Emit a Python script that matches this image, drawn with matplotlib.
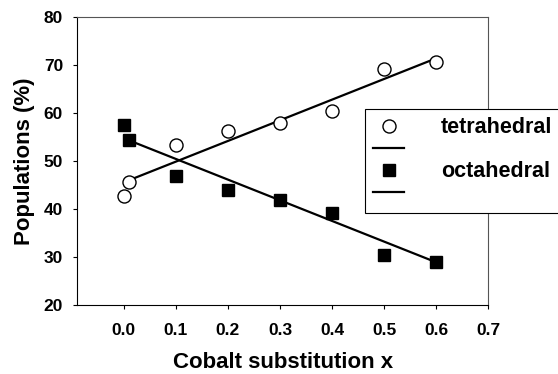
import numpy as np
import matplotlib
matplotlib.use('Agg')
import matplotlib.pyplot as plt
from matplotlib.lines import Line2D
from matplotlib.legend_handler import HandlerLine2D

# data
x = [0.0, 0.01, 0.1, 0.2, 0.3, 0.4, 0.5, 0.6]
tetrahedral = [42.7, 45.7, 53.3, 56.2, 58.0, 60.5, 69.2, 70.6]
octahedral = [57.4, 54.4, 46.8, 43.9, 41.9, 39.1, 30.4, 29.0]

# straight fit lines (end points)
fit_x = [0.01, 0.6]
tetra_fit = [46.0, 71.4]
octa_fit = [54.3, 28.9]

xticks = [0.0, 0.1, 0.2, 0.3, 0.4, 0.5, 0.6, 0.7]
yticks = [20, 30, 40, 50, 60, 70, 80]

plt.rcParams['font.family'] = 'Liberation Sans'
plt.rcParams['font.weight'] = 'bold'


class RightMarker(HandlerLine2D):
    # put the legend marker near the right end of the handle box
    def get_xdata(self, legend, xdescent, ydescent, width, height, fontsize):
        xdata, xm = super().get_xdata(legend, xdescent, ydescent, width, height, fontsize)
        return xdata, [0.9 * width - xdescent]


fig = plt.figure(figsize=(5.58, 3.74), dpi=100)
ax = fig.add_axes([0.138, 0.1845, 0.737, 0.77])

ax.plot(x, tetrahedral, 'o', mfc='white', mec='black', mew=1.0, ms=9.4, zorder=3)
ax.plot(x, octahedral, 's', mfc='black', mec='black', ms=9.0, zorder=3)
ax.plot(fit_x, tetra_fit, '-', color='black', lw=1.6)
ax.plot(fit_x, octa_fit, '-', color='black', lw=1.6)

ax.set_xlim(-0.09, 0.7)
ax.set_ylim(20, 80)
ax.set_xticks(xticks)
ax.set_yticks(yticks)
ax.set_xticklabels(['%.1f' % v for v in xticks])
ax.tick_params(direction='out', length=3, width=0.8, labelsize=12.5)
ax.tick_params(axis='x', pad=10)
ax.tick_params(axis='y', pad=7)
for s in ax.spines.values():
    s.set_linewidth(0.8)
ax.spines['top'].set_color('#555555')
ax.spines['right'].set_color('#555555')

ax.set_xlabel('Cobalt substitution x', fontsize=16, fontweight='bold', labelpad=10)
ax.set_ylabel('Populations (%)', fontsize=16, fontweight='bold', labelpad=6)

h_circ = Line2D([], [], ls='none', marker='o', mfc='white', mec='black', mew=1.0, ms=9.4)
h_sq = Line2D([], [], ls='none', marker='s', mfc='black', mec='black', ms=8.0)
h_line = Line2D([], [], color='black', lw=1.6)
leg = fig.legend([h_circ, h_line, h_sq, h_line], ['tetrahedral', '', 'octahedral', ''],
                 loc='upper left', bbox_to_anchor=(365 / 558, 1 - 109 / 374),
                 borderaxespad=0, fontsize=15.5, frameon=True, fancybox=False,
                 edgecolor='black', framealpha=1, handlelength=1.45, handletextpad=1.7,
                 labelspacing=0.05, borderpad=0.38, numpoints=1,
                 handler_map={h_circ: RightMarker(), h_sq: RightMarker()})
leg.get_frame().set_linewidth(0.8)

fig.savefig('out.png', dpi=100)
